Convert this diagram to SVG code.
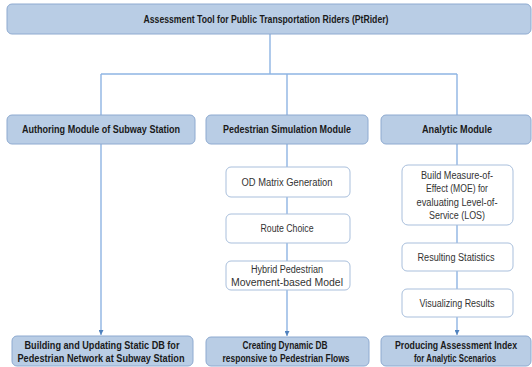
<svg xmlns="http://www.w3.org/2000/svg" width="532" height="367" viewBox="0 0 532 367">
<style>
.m{fill:#b9cde5;stroke:#8eaad0;stroke-width:1}
.s{fill:#ffffff;stroke:#a9bfdc;stroke-width:1}
.b{font-family:"Liberation Sans",Arial,sans-serif;font-weight:bold;font-size:10.5px;fill:#1a1a1a;text-anchor:middle}
.t{font-family:"Liberation Sans",Arial,sans-serif;font-size:10px;fill:#333333;text-anchor:middle}
.c{stroke:#8eb4e3;stroke-width:1.4;fill:none}
</style>
<defs>
<marker id="ar" markerWidth="6" markerHeight="5" refX="5" refY="2.5" orient="auto" markerUnits="userSpaceOnUse">
<path d="M0,0 L5,2.5 L0,5 Z" fill="#4f81bd"/>
</marker>
</defs>
<rect width="532" height="367" fill="#ffffff"/>
<g id="connectors">
<path class="c" d="M270,34 V74"/>
<path class="c" d="M101,74 H457"/>
<path class="c" d="M101,74 V115"/>
<path class="c" d="M287,74 V115"/>
<path class="c" d="M457,74 V115"/>
<path class="c" d="M101,144 V335" marker-end="url(#ar)"/>
<path class="c" d="M287,144 V167"/>
<path class="c" d="M287,197 V214"/>
<path class="c" d="M287,243 V261"/>
<path class="c" d="M287,290 V336" marker-end="url(#ar)"/>
<path class="c" d="M457,144 V165"/>
<path class="c" d="M457,225 V243"/>
<path class="c" d="M457,271 V289"/>
<path class="c" d="M457,317 V335" marker-end="url(#ar)"/>
</g>
<g id="top">
<rect class="m" x="7" y="4" width="524" height="30" rx="5"/>
<text class="b" x="266" y="23" textLength="245" lengthAdjust="spacingAndGlyphs">Assessment Tool for Public Transportation Riders (PtRider)</text>
</g>
<g id="authoring">
<rect class="m" x="7" y="115" width="188" height="29" rx="5"/>
<text class="b" x="101" y="133" textLength="158" lengthAdjust="spacingAndGlyphs">Authoring Module of Subway Station</text>
</g>
<g id="pedestrian">
<rect class="m" x="206" y="115" width="162" height="29" rx="5"/>
<text class="b" x="287" y="133" textLength="128" lengthAdjust="spacingAndGlyphs">Pedestrian Simulation Module</text>
</g>
<g id="analytic">
<rect class="m" x="381" y="115" width="150" height="29" rx="5"/>
<text class="b" x="457" y="133" textLength="70" lengthAdjust="spacingAndGlyphs">Analytic Module</text>
</g>
<g id="od">
<rect class="s" x="226" y="167" width="124" height="30" rx="5"/>
<text class="t" x="287" y="185.5" textLength="91" lengthAdjust="spacingAndGlyphs">OD Matrix Generation</text>
</g>
<g id="route">
<rect class="s" x="226" y="214" width="124" height="29" rx="5"/>
<text class="t" x="287" y="232" textLength="53" lengthAdjust="spacingAndGlyphs">Route Choice</text>
</g>
<g id="hybrid">
<rect class="s" x="226" y="261" width="124" height="29" rx="5"/>
<text class="t" x="287" y="272.5" textLength="72" lengthAdjust="spacingAndGlyphs">Hybrid Pedestrian</text>
<text class="t" x="287" y="285.5" textLength="112" lengthAdjust="spacingAndGlyphs">Movement-based Model</text>
</g>
<g id="moe">
<rect class="s" x="402" y="165" width="111" height="60" rx="6"/>
<text class="t" x="457" y="178.5" textLength="72" lengthAdjust="spacingAndGlyphs">Build Measure-of-</text>
<text class="t" x="457" y="192" textLength="62" lengthAdjust="spacingAndGlyphs">Effect (MOE) for</text>
<text class="t" x="457" y="205.5" textLength="81" lengthAdjust="spacingAndGlyphs">evaluating Level-of-</text>
<text class="t" x="457" y="219" textLength="56" lengthAdjust="spacingAndGlyphs">Service (LOS)</text>
</g>
<g id="resulting">
<rect class="s" x="402" y="243" width="111" height="28" rx="5"/>
<text class="t" x="456" y="260.5" textLength="77" lengthAdjust="spacingAndGlyphs">Resulting Statistics</text>
</g>
<g id="visualizing">
<rect class="s" x="402" y="289" width="111" height="28" rx="5"/>
<text class="t" x="457" y="306.5" textLength="75" lengthAdjust="spacingAndGlyphs">Visualizing Results</text>
</g>
<g id="building">
<rect class="m" x="12" y="336" width="181" height="30" rx="5"/>
<text class="b" x="102" y="348.5" textLength="155" lengthAdjust="spacingAndGlyphs">Building and Updating Static DB for</text>
<text class="b" x="101" y="361.5" textLength="167" lengthAdjust="spacingAndGlyphs">Pedestrian Network at Subway Station</text>
</g>
<g id="creating">
<rect class="m" x="206" y="337" width="163" height="29" rx="5"/>
<text class="b" x="285" y="348.5" textLength="85" lengthAdjust="spacingAndGlyphs">Creating Dynamic DB</text>
<text class="b" x="286" y="361.5" textLength="127" lengthAdjust="spacingAndGlyphs">responsive to Pedestrian Flows</text>
</g>
<g id="producing">
<rect class="m" x="381" y="336" width="150" height="30" rx="5"/>
<text class="b" x="456" y="348.5" textLength="122" lengthAdjust="spacingAndGlyphs">Producing Assessment Index</text>
<text class="b" x="455" y="361.5" textLength="82" lengthAdjust="spacingAndGlyphs">for Analytic Scenarios</text>
</g>
</svg>
